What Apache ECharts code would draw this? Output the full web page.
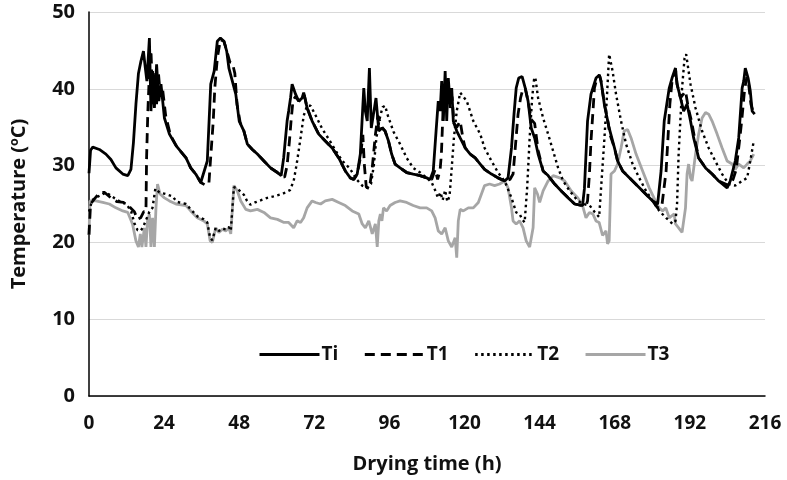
<!DOCTYPE html>
<html>
<head>
<meta charset="utf-8">
<script src="https://cdn.jsdelivr.net/npm/echarts@6/dist/echarts.min.js"></script>
<style>html,body{margin:0;padding:0;background:#fff}#c{width:787px;height:480px}</style>
</head>
<body>
<div id="c"></div>
<script>
// Drying time (h) vs temperature (ºC) — [time, value] pairs
const xTicks = [0, 24, 48, 72, 96, 120, 144, 168, 192, 216];
const yTicks = [0, 10, 20, 30, 40, 50];
const seriesNames = ['Ti', 'T1', 'T2', 'T3'];

const ti = [[0,29],[0.5,32],[1.2,32.4],[3.3,32.1],[5.4,31.5],[7,30.8],[8.6,29.7],[10.8,28.9],[12.4,28.7],[13.4,29.5],[14.2,33],[15,38],[15.8,42],[16.6,43.6],[17.4,44.9],[18,42.7],[18.5,41],[19.3,46.6],[19.8,37.1],[20.3,42.3],[20.9,37.5],[21.6,43.2],[22.3,38.4],[23,40.6],[24.1,36.2],[25.7,34.1],[27.8,32.6],[31,31],[32.5,29.7],[34.1,28.9],[35.7,27.8],[36.3,28],[37.8,30.6],[38.9,40.6],[40,42.3],[41,46.2],[42,46.6],[43.1,46.2],[44,44.9],[44.7,42.7],[45.8,41],[46.9,39.3],[48,35.8],[49.5,34.5],[50.6,32.8],[52.2,32.1],[53.8,31.5],[55.9,30.6],[58,29.7],[60.2,29.1],[61.4,28.7],[62.2,31],[63.3,35.8],[63.8,37.1],[64.4,38.8],[64.9,40.6],[66,39.3],[67,38.4],[68.1,38.8],[68.6,39.5],[69.7,37.5],[71.3,35.8],[73.4,34.1],[75.5,33.2],[77.7,32.3],[79.8,31],[81.9,29.3],[83.5,28.4],[84.6,28.2],[85.7,28.9],[86.7,31.5],[87.8,40.1],[88.3,37.1],[88.9,35.8],[89.6,42.7],[90.2,34.9],[90.9,36.7],[91.7,38.8],[92.6,34.5],[93.6,34.9],[94.6,34.5],[95.7,33.2],[96.7,31.5],[97.8,30.2],[99.4,29.7],[101.5,29.1],[103.6,28.9],[105.8,28.7],[107.9,28.4],[109,28.2],[110,29.3],[110.9,34.5],[111.6,38.4],[112.2,37.1],[112.7,41],[113.2,35.8],[113.8,42.3],[114.3,35.8],[114.8,41.4],[115.4,38],[115.9,40.1],[116.4,35.8],[117.5,34.5],[118.6,33.6],[120.2,32.3],[121.8,31.5],[123.4,31],[125,30.2],[126.4,29.5],[128.6,28.9],[130.7,28.4],[132.8,28],[133.9,28.4],[135,32.3],[135.8,36.7],[136.5,40.1],[137.3,41.4],[138.4,41.6],[139.4,40.1],[140.3,38.4],[141.3,34.9],[142.4,33.6],[143.5,31.5],[145.1,29.3],[146.7,28.7],[148.8,27.6],[150.9,26.7],[153.1,25.8],[155.2,25],[157.7,24.8],[158.3,27],[159.3,35.8],[160.4,39.3],[162,41.4],[163.1,41.8],[163.6,41],[164.7,37.9],[166.2,34.9],[167.9,32.3],[168.9,30.6],[170.5,29.3],[173.7,28],[176.9,26.7],[180.1,25.4],[181.7,25],[182.8,29.3],[183.8,35.8],[185.4,40.1],[186.3,41.4],[187.4,42.7],[187.9,40.6],[189,38.8],[190,37.1],[191.1,38],[192.2,35.8],[193.2,33.6],[194.8,31],[197,29.7],[199.1,28.9],[201.2,28],[203.9,27.1],[204.9,28],[206.5,30.6],[207.6,33.6],[208.7,40.1],[209.2,41],[209.7,42.7],[210.6,41.4],[211.3,39.7],[211.9,37.1],[212.7,36.7]];

const t1 = [[0,21],[0.5,25],[2,25.8],[3.5,26.5],[5,26.5],[7,25.8],[9,25.3],[11,25.2],[13,24.6],[14.5,24],[15.5,23],[16.5,23.2],[17.5,24],[18.2,24],[18.4,31],[18.8,37],[19.3,42],[19.8,45],[20.4,38],[21,42],[21.6,38],[22.2,42],[22.8,39],[23.5,40],[24.5,36.5],[26,34],[28,32.5],[31,31],[32.5,29.7],[34.1,28.9],[35.7,27.8],[37,27.5],[38.3,27.6],[38.8,30.6],[39.7,35.8],[40.2,40.1],[41,44],[42,46.4],[43.1,46.2],[44,45],[45,43.5],[45.8,43.4],[46.6,42],[47.3,38],[48.3,35.6],[49.5,34.5],[50.6,32.8],[52.2,32.1],[53.8,31.5],[55.9,30.6],[58,29.7],[60.2,29.1],[61.4,28.7],[62.5,28.5],[63.3,30],[64,33],[64.6,36],[65.2,38.5],[66,39],[67,38.4],[68.1,38.8],[68.8,39.2],[69.7,37.5],[71.3,35.8],[73.4,34.1],[75.5,33.2],[77.7,32.3],[79.8,31],[81.9,29.3],[83.5,28.4],[84.6,28.2],[85.7,28.9],[86.7,31],[87.5,34],[88,30],[88.6,27.2],[89.6,27],[90.5,29.7],[91.5,34],[92.3,36.5],[93.6,35],[94.6,34.5],[95.7,33.2],[96.7,31.5],[97.8,30.2],[99.4,29.7],[101.5,29.1],[103.6,28.9],[105.8,28.7],[107.9,28.4],[109.5,28.2],[110.6,29.5],[111.4,28.2],[112.2,29.5],[112.6,31.5],[113,35.8],[113.6,39],[114.2,37],[114.8,40.5],[115.4,37.5],[116,39],[116.6,35.5],[117.5,35],[118.6,35.8],[119.5,33.5],[120.2,32.3],[121.8,31.5],[123.4,31],[125,30.2],[126.4,29.5],[128.6,28.9],[130.7,28.4],[132.8,28],[134.5,28.2],[135.5,28.9],[136.2,32.3],[137.1,36.7],[137.9,38.8],[138.7,40.1],[139.4,40],[140.3,38.4],[141.3,36],[142.4,35.5],[143.5,32],[145.1,29.3],[146.7,28.7],[148.8,27.6],[150.9,26.7],[153.1,25.8],[155.2,25],[157.7,24.8],[159,25],[159.3,25.4],[159.9,28.9],[160.4,33.2],[161.1,37.5],[161.5,40.1],[162.3,41.4],[163.1,41.8],[163.6,41],[164.7,38],[165.7,36],[166.5,34],[167.9,32.3],[168.9,30.6],[170.5,29.3],[173.7,28],[176.9,26.7],[180.1,25.4],[181.7,24.5],[183,24.6],[184.4,29.3],[185,33.6],[185.6,38],[186.3,41],[187.4,42.5],[187.9,40.6],[189,38.8],[190.6,39.7],[191.5,37.5],[192.5,35.8],[193.5,33.6],[194.8,31],[197,29.7],[199.1,28.9],[201.2,28],[203.9,27.5],[205,27.6],[205.8,28.2],[206.8,29.5],[207.8,33],[208.6,36],[209.5,40],[210.2,41.5],[210.8,40.5],[211.5,38],[212.2,37],[212.7,36.8]];

const t2 = [[0,24],[1,25.5],[3,26],[5.5,26.5],[8,25.8],[10,25.3],[12,25],[13.5,24],[14.5,22.5],[15.5,21.6],[16.5,21.5],[17.3,22],[18.3,23],[19.3,24],[20.3,24.5],[21.2,27],[22.5,26.5],[24.5,26.3],[26.7,26],[28,25.3],[31,25],[32.5,24.3],[34.6,23.4],[36.7,23],[37.8,22.6],[38.7,20.6],[39.4,20.3],[40.5,21.9],[41.5,21.5],[42.6,21.8],[43.7,21.7],[44.7,22],[45.3,21.5],[46.3,27.2],[47.4,27],[48.5,26.6],[49.5,26.2],[50.5,25.4],[51.6,24.9],[53,25.2],[55,25.5],[57,25.8],[59,26],[61.7,26.3],[64.2,26.8],[65.4,28],[66.4,30.3],[67.6,33.6],[68.6,36.5],[69.7,37.8],[70.8,37.8],[72.7,36.3],[74.5,34.8],[77,33.2],[79,31.8],[81,30.6],[83.4,29.6],[85.5,28.2],[87.3,27.4],[88.9,27.1],[90.1,27.6],[91,30],[91.8,33.5],[92.8,36],[93.8,37.6],[94.6,37.8],[95.5,36.5],[97.3,34.4],[99.4,32.8],[101.5,31],[103.6,29.7],[105.8,29.1],[107.9,28.4],[109.5,27.8],[110.6,26.8],[111.5,25.8],[112.3,26.5],[113,25.5],[113.8,26.8],[114.5,25.3],[115.2,26],[115.9,29.7],[116.6,33.6],[117.5,37.1],[118.6,39.5],[119.1,39.7],[120.7,38.4],[122.8,35.8],[125,34.1],[126.4,32.3],[128.6,30.6],[130.7,29.1],[132.8,28],[135,25.8],[136.5,23.9],[137.6,23.7],[138.4,23],[139.2,22.6],[140,27.1],[140.8,33.6],[141.6,38.8],[142.2,41.2],[142.6,41.5],[143.5,38.8],[145.1,36.2],[146.7,34.1],[148.3,31.9],[149.9,29.7],[151.5,28],[153.6,26.7],[156.2,25.4],[158,25],[160,24.8],[161.5,24],[163,23.3],[163.6,23.2],[164.7,33.6],[165.5,39],[166.2,44.5],[166.6,44.7],[167.3,42.3],[168.4,39.3],[170,35.8],[171.6,32.8],[173.7,30.2],[175.8,28.4],[178,26.7],[180.1,25.4],[182.2,24.1],[184.4,23.2],[186.5,22.4],[187.4,22.8],[187.9,25],[188.4,31.5],[189.5,40.1],[190.3,44],[190.8,44.5],[192.2,40.6],[193.8,37.5],[195.9,34.5],[198,32.3],[200.1,30.6],[202.3,28.9],[204.4,27.6],[206.5,27.4],[208.7,28],[210.3,28.4],[211.3,30.6],[212.4,33.2]];

const t3 = [[0,21],[0.3,25.4],[2.2,25.4],[4.4,25.2],[6.5,25],[8.6,24.5],[10.8,24.1],[12.4,23.9],[13.9,22.4],[15,20.2],[15.8,19.4],[16.4,21.1],[16.9,19.4],[17.7,21.9],[18.2,19.4],[18.7,22.8],[19.3,23.7],[19.8,19.4],[20.3,23.2],[20.9,19.4],[21.4,24.5],[21.9,27.6],[22.7,26.3],[24.1,25.8],[25.7,25.4],[27.8,25],[31,24.8],[32.5,24.1],[34.6,23.2],[36.7,22.8],[37.8,22.4],[38.7,20.2],[39.4,20],[40.5,21.9],[41.5,21.3],[42.6,21.7],[43.7,21.5],[44.7,21.9],[45.3,21.1],[46.3,27.4],[47.4,26.7],[48.5,25.4],[50.1,24.3],[51.6,24.1],[53.8,24.3],[55.9,23.9],[58,23.2],[60.2,23],[62.3,22.6],[63.8,22.6],[65.4,21.9],[66.5,22.8],[67.6,22.6],[68.6,23.2],[69.7,24.5],[71.3,25.4],[72.4,25.2],[74,25],[75.5,25.4],[77.7,25.6],[79.8,25.2],[81.9,24.8],[84.1,24.1],[86.2,23.7],[87.3,22.4],[88.3,21.9],[89.4,22.8],[90.5,21.1],[91.5,22.4],[92.1,19.4],[92.6,22.8],[93.1,23.7],[93.6,22.8],[94.1,24.5],[95.1,24.1],[96.2,24.8],[97.8,25.2],[99.4,25.4],[101.5,25.2],[103.6,24.8],[105.8,24.5],[107.9,24.5],[109.5,24.1],[110.6,23.2],[111.6,21.5],[112.7,21.1],[113.8,21.9],[114.8,20.2],[115.9,19.4],[117,20.6],[117.5,18],[118,22.8],[118.6,24.3],[119.6,24.1],[121.2,24.5],[122.8,24.5],[124.4,25.2],[125.4,26.3],[126.4,27.4],[128,27.6],[129.6,27.4],[131.2,27.6],[132.8,28],[133.9,27.1],[135,24.5],[135.5,22.8],[136.5,22.4],[137.6,22.8],[138.7,21.9],[139.7,20.2],[140.8,19.4],[141.9,21.9],[142.4,27.1],[143.3,26.3],[144,25.2],[145.1,26.7],[146.7,28],[148.3,28.7],[150.4,28.4],[152,28],[154.1,26.7],[156.2,25.8],[157.7,24.8],[158.8,23.2],[159.9,23.9],[161,23.7],[162,22.8],[163,22.6],[163.6,22.8],[164.1,20.9],[165.2,21.5],[165.7,19.8],[166.2,20.2],[166.8,28.9],[167.9,29.3],[168.9,30.2],[170,32.3],[171,34.5],[172.1,34.7],[173.2,33.6],[174.8,31.5],[176.9,29.3],[179,27.1],[181.2,25.2],[182.2,24.5],[183.3,24.1],[184.3,24.5],[185.4,23.2],[187,23.7],[187.4,22.4],[188.4,21.9],[189.5,21.3],[190,21.1],[190.6,24.5],[191.1,28.9],[191.6,30.2],[192.2,28.4],[192.7,28],[193.8,31.5],[194.8,34.1],[195.9,36.2],[197,36.9],[198,36.7],[199.1,35.8],[200.7,34.1],[202.3,32.3],[203.9,30.6],[205.5,30.2],[206.5,29.5],[207.6,30.2],[209.2,29.7],[210.3,30.2],[211.3,30.6],[212.4,31.5]];

const chart = echarts.init(document.getElementById('c'), null, {renderer: 'canvas'});
const font = '"Open Sans", "DejaVu Sans", sans-serif';
const txt = (size) => ({fontFamily: font, fontWeight: 'bold', fontSize: size, color: '#111'});
const lineSeries = (name, data, color, type, width, z) => ({
  name, type: 'line', data, showSymbol: false, symbol: 'none', z,
  lineStyle: {color, type, width, cap: 'butt'}, itemStyle: {color},
  animation: false
});
chart.setOption({
  backgroundColor: '#fff',
  animation: false,
  grid: {left: 89, right: 22, top: 12, bottom: 84},
  legend: {
    data: seriesNames, left: 253, top: 340, itemWidth: 60, itemHeight: 14, itemGap: 25,
    itemStyle: {opacity: 0, borderWidth: 0},
    lineStyle: {width: 3},
    textStyle: Object.assign(txt(19), {padding: [0, 0, 0, -3]})
  },
  xAxis: {
    type: 'value', min: xTicks[0], max: xTicks[xTicks.length - 1], interval: 24,
    name: 'Drying time (h)', nameLocation: 'middle', nameGap: 58,
    nameTextStyle: txt(20),
    axisLine: {lineStyle: {color: '#000', width: 1.5}}, axisTick: {show: false},
    axisLabel: Object.assign(txt(19), {margin: 18}),
    splitLine: {show: false}
  },
  yAxis: {
    type: 'value', min: yTicks[0], max: yTicks[yTicks.length - 1], interval: 10,
    name: 'Temperature (ºC)', nameLocation: 'middle', nameGap: 60,
    nameTextStyle: txt(20),
    axisLine: {show: true, lineStyle: {color: '#000', width: 1.5}}, axisTick: {show: false},
    axisLabel: Object.assign(txt(20), {margin: 14}),
    splitLine: {lineStyle: {color: '#d9d9d9', width: 1}}
  },
  series: [
    lineSeries('Ti', ti, '#000', 'solid', 2.8, 5),
    lineSeries('T1', t1, '#000', [10, 6], 2.8, 4),
    lineSeries('T2', t2, '#000', [2.5, 3.5], 2.4, 3),
    lineSeries('T3', t3, '#a6a6a6', 'solid', 2.8, 2)
  ]
});
</script>
</body>
</html>
